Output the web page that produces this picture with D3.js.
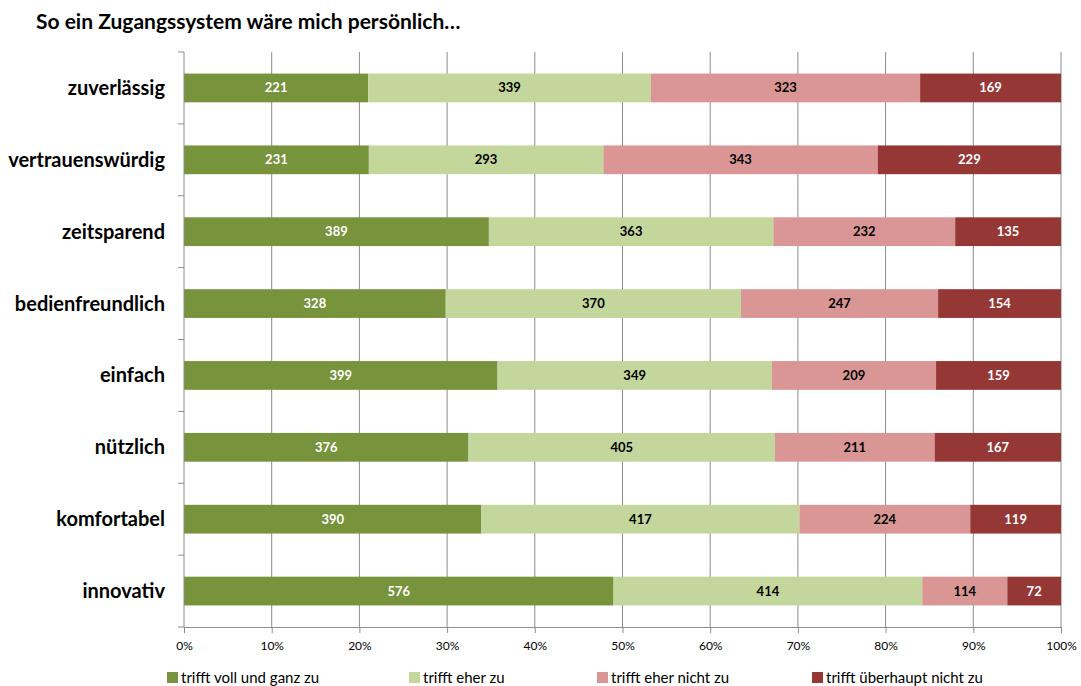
<!DOCTYPE html>
<html><head><meta charset="utf-8">
<script src="https://cdn.jsdelivr.net/npm/d3@7"></script>
<style>body{margin:0;background:#fff;font-family:Lato,"Open Sans",sans-serif;}</style>
</head><body>
<svg id="c" width="1081" height="686"></svg>
<script>
const title = "So ein Zugangssystem wäre mich persönlich…";
const categories = ["zuverlässig","vertrauenswürdig","zeitsparend","bedienfreundlich","einfach","nützlich","komfortabel","innovativ"];
const seriesNames = ["trifft voll und ganz zu","trifft eher zu","trifft eher nicht zu","trifft überhaupt nicht zu"];
const vollUndGanz = [221,231,389,328,399,376,390,576];
const eher = [339,293,363,370,349,405,417,414];
const eherNicht = [323,343,232,247,209,211,224,114];
const ueberhauptNicht = [169,229,135,154,159,167,119,72];
const xTicks = [0,0.1,0.2,0.3,0.4,0.5,0.6,0.7,0.8,0.9,1];
const colors = ["#77933C","#C3D69B","#D99694","#953735"];
const labelColors = ["#fff","#000","#000","#fff"];

const svg = d3.select("#c");
const L=184,R=1061,T=52,B=627;
const x = d3.scaleLinear().domain([0,1]).range([L,R]);
const y = d3.scaleBand().domain(categories).range([T,B]).paddingInner(0.6).paddingOuter(0.3);
const yb = d3.scaleBand().domain(categories).range([T,B]);

svg.append("text").attr("x",36).attr("y",29).attr("font-size",21).attr("font-weight","bold").text(title);

// gridlines
svg.append("g").selectAll("line").data(xTicks.slice(1)).join("line")
  .attr("x1",d=>x(d)).attr("x2",d=>x(d)).attr("y1",T).attr("y2",B)
  .attr("stroke","#8c8c8c").attr("stroke-width",1);

const rows = categories.map((c,i)=>{
  const vals=[vollUndGanz[i],eher[i],eherNicht[i],ueberhauptNicht[i]];
  const tot=d3.sum(vals); let acc=0;
  return vals.map((v,j)=>{const s={cat:c,j,v,x0:acc/tot,x1:(acc+v)/tot}; acc+=v; return s;});
}).flat();

svg.append("g").selectAll("rect").data(rows).join("rect")
  .attr("x",d=>x(d.x0)).attr("width",d=>x(d.x1)-x(d.x0))
  .attr("y",d=>y(d.cat)).attr("height",y.bandwidth())
  .attr("fill",d=>colors[d.j]);

svg.append("g").selectAll("text").data(rows).join("text")
  .attr("x",d=>(x(d.x0)+x(d.x1))/2).attr("y",d=>y(d.cat)+y.bandwidth()/2)
  .attr("dy","0.35em").attr("text-anchor","middle").attr("font-size",13).attr("font-weight","bold")
  .attr("fill",d=>labelColors[d.j]).text(d=>d.v);

// y axis
const ya = svg.append("g");
ya.append("line").attr("x1",L).attr("x2",L).attr("y1",T).attr("y2",B).attr("stroke","#8c8c8c");
ya.selectAll("line.t").data(d3.range(categories.length+1)).join("line").attr("class","t")
  .attr("x1",L-6).attr("x2",L).attr("y1",i=>T+i*yb.step()).attr("y2",i=>T+i*yb.step()).attr("stroke","#8c8c8c");
ya.selectAll("text").data(categories).join("text")
  .attr("x",165).attr("y",d=>yb(d)+yb.bandwidth()/2).attr("dy","0.35em").attr("text-anchor","end")
  .attr("font-size",20).attr("font-weight","bold").text(d=>d);

// x axis
const xa = svg.append("g").attr("transform",`translate(0,${B})`)
  .call(d3.axisBottom(x).tickValues(xTicks).tickFormat(d3.format(".0%")).tickSize(6).tickPadding(8));
xa.select(".domain").attr("stroke","#8c8c8c");
xa.selectAll(".tick line").attr("stroke","#8c8c8c");
xa.selectAll("text").attr("font-size",12).attr("font-family","Lato,'Open Sans',sans-serif").attr("fill","#000");

// legend
const legX=[167,409,597,812];
const lg = svg.append("g").selectAll("g").data(seriesNames).join("g")
  .attr("transform",(d,i)=>`translate(${legX[i]},672)`);
lg.append("rect").attr("width",11).attr("height",11).attr("fill",(d,i)=>colors[i]);
lg.append("text").attr("x",14).attr("y",6).attr("dy","0.35em").attr("font-size",15).text(d=>d);
</script>
</body></html>
